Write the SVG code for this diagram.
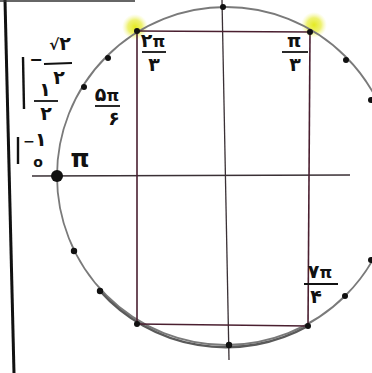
<svg xmlns="http://www.w3.org/2000/svg" width="372" height="373" viewBox="0 0 372 373">
<defs>
<radialGradient id="hl">
<stop offset="0" stop-color="#e4ea20" stop-opacity="1"/>
<stop offset="0.55" stop-color="#eaee50" stop-opacity="0.8"/>
<stop offset="1" stop-color="#f4f6a0" stop-opacity="0"/>
</radialGradient>
</defs>
<style>
.t{font-family:"DejaVu Sans",sans-serif;fill:#111;text-anchor:middle;font-weight:bold}
.n{font-size:19px}
.p{font-size:16px}
.ax{stroke:#3a3035;stroke-width:1.3;fill:none}
.rc{stroke:#4a1f30;stroke-width:1.6;fill:none}
.bar{stroke:#111;stroke-width:2.4;fill:none}
.fb{stroke:#111;stroke-width:1.8}
.d{fill:#111}
</style>
<rect width="372" height="373" fill="#fff"/>
<g id="frame">
<line x1="5" y1="0" x2="14" y2="373" stroke="#111" stroke-width="3"/>
<line x1="0" y1="1" x2="135" y2="1" stroke="#333" stroke-width="1.5"/>
</g>
<g id="highlights">
<circle cx="135" cy="27" r="13" fill="url(#hl)"/>
<circle cx="314" cy="25" r="13" fill="url(#hl)"/>
</g>
<g id="circle">
<circle cx="226" cy="176" r="169" fill="none" stroke="#7a7a7a" stroke-width="1.8"/>
<path d="M100,291 A169,169 0 0 0 308,326" fill="none" stroke="#5a5a5a" stroke-width="2.4"/>
</g>
<g id="connectors">
<line class="ax" x1="32" y1="176" x2="350" y2="175"/>
<line class="ax" x1="222" y1="0" x2="229" y2="360"/>
<line class="rc" x1="137" y1="31" x2="310" y2="32"/>
<line class="rc" x1="137" y1="31" x2="137" y2="324"/>
<line class="rc" x1="310" y1="32" x2="308" y2="326"/>
<line class="rc" x1="137" y1="324" x2="308" y2="326"/>
</g>
<g id="points">
<circle class="d" cx="223" cy="7" r="3"/>
<circle class="d" cx="137" cy="31" r="3"/>
<circle class="d" cx="310" cy="32" r="3"/>
<circle class="d" cx="346" cy="60" r="3"/>
<circle class="d" cx="371" cy="100" r="3"/>
<circle class="d" cx="108" cy="58" r="3"/>
<circle class="d" cx="84" cy="87" r="3"/>
<circle class="d" cx="57" cy="176" r="6"/>
<circle class="d" cx="74" cy="251" r="3.2"/>
<circle class="d" cx="100" cy="291" r="3.2"/>
<circle class="d" cx="137" cy="324" r="3"/>
<circle class="d" cx="229" cy="345" r="3.2"/>
<circle class="d" cx="308" cy="326" r="3"/>
<circle class="d" cx="345" cy="296" r="3"/>
<circle class="d" cx="371" cy="260" r="3"/>
</g>
<g id="label-2pi3">
<text class="t" x="153" y="47"><tspan class="n">۲</tspan><tspan class="p">π</tspan></text>
<line class="fb" x1="142" y1="52" x2="166" y2="52"/>
<text class="t n" x="154" y="71">۳</text>
</g>
<g id="label-pi3">
<text class="t" x="294" y="47" font-size="18">π</text>
<line class="fb" x1="282" y1="52" x2="308" y2="52"/>
<text class="t n" x="295" y="71">۳</text>
</g>
<g id="label-5pi6">
<text class="t" x="107" y="101"><tspan class="n">۵</tspan><tspan class="p">π</tspan></text>
<line class="fb" x1="95" y1="106" x2="120" y2="106"/>
<text class="t n" x="114" y="125">۶</text>
</g>
<g id="label-pi">
<text class="t" x="80" y="167" font-size="24" font-weight="normal">π</text>
</g>
<g id="label-7pi4">
<text class="t" x="320" y="278"><tspan class="n">۷</tspan><tspan class="p">π</tspan></text>
<line class="fb" x1="304" y1="284" x2="338" y2="284"/>
<text class="t n" x="316" y="303">۴</text>
</g>
<g id="label-left">
<line class="bar" x1="23" y1="57" x2="24" y2="109"/>
<text class="t" x="36" y="65" font-size="16">−</text>
<text class="t" x="60" y="50"><tspan font-size="15">√</tspan><tspan class="n">۲</tspan></text>
<line class="fb" x1="44" y1="64" x2="72" y2="63"/>
<text class="t n" x="59" y="84">۲</text>
<text class="t n" x="45" y="96">۱</text>
<line class="fb" x1="34" y1="101" x2="58" y2="101"/>
<text class="t n" x="46" y="120">۲</text>
<line class="bar" x1="18" y1="137" x2="18" y2="164"/>
<text class="t" x="35" y="146"><tspan font-size="14">−</tspan><tspan class="n">۱</tspan></text>
<text class="t" x="38" y="167" font-size="14">o</text>
</g>
</svg>
